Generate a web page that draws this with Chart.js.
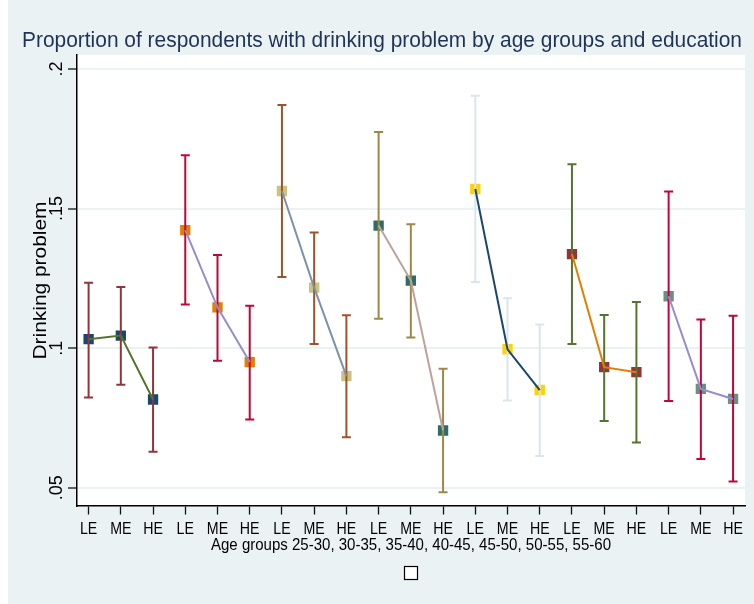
<!DOCTYPE html>
<html>
<head>
<meta charset="utf-8">
<script src="https://cdn.jsdelivr.net/npm/chart.js@4/dist/chart.umd.min.js"></script>
<style>
  html, body { margin: 0; padding: 0; background: #ffffff; }
  canvas { display: block; }
</style>
</head>
<body>
<canvas id="chart" width="754" height="604"></canvas>
<script>
// Education levels within each age group, and the age groups themselves
const eduLevels = ['LE', 'ME', 'HE'];
const ageGroups = ['25-30', '30-35', '35-40', '40-45', '45-50', '50-55', '55-60'];

// Proportion with a drinking problem, one value per age group x education level
const proportion = [
  0.1032, 0.1045, 0.0816,
  0.1423, 0.1146, 0.0950,
  0.1563, 0.1217, 0.0900,
  0.1439, 0.1242, 0.0705,
  0.1570, 0.0996, 0.0850,
  0.1337, 0.0932, 0.0914,
  0.1186, 0.0854, 0.0818
];

// Confidence interval bounds
const ciLower = [
  0.0823, 0.0869, 0.0629,
  0.1156, 0.0955, 0.0744,
  0.1255, 0.1015, 0.0681,
  0.1105, 0.1038, 0.0484,
  0.1237, 0.0812, 0.0614,
  0.1015, 0.0739, 0.0662,
  0.0811, 0.0603, 0.0522
];
const ciUpper = [
  0.1234, 0.1219, 0.1002,
  0.1691, 0.1334, 0.1152,
  0.1871, 0.1414, 0.1118,
  0.1774, 0.1444, 0.0926,
  0.1904, 0.1179, 0.1085,
  0.1659, 0.1119, 0.1165,
  0.1561, 0.1103, 0.1116
];

// Y axis ticks and their labels
const yTickValues = [0.05, 0.10, 0.15, 0.20];
const yTickLabels = ['.05', '.1', '.15', '.2'];

const chartTitle = 'Proportion of respondents with drinking problem by age groups and education';
const yAxisTitle = 'Drinking problem';
const xAxisTitle = 'Age groups ' + ageGroups.join(', ');

// Per-group styling
const markerColors = ['#1a476f', '#e37e00', '#cac27e', '#2d6d66', '#ffd200', '#90353b', '#6e8e84'];
const lineColors   = ['#55752f', '#938dd2', '#7b92a8', '#bfa19c', '#1a476f', '#e37e00', '#938dd2'];
const capColors    = ['#90353b', '#c10534', '#a0522d', '#9c8847', '#d9e6eb', '#55752f', '#c10534'];

const FONT = '"Liberation Sans", Arial, Helvetica, sans-serif';
const BG = '#eaf2f3';

// Draws text centred on (x, y) baseline, optionally stretched to a given length and rotated
function drawText(ctx, text, x, y, size, opts) {
  opts = opts || {};
  ctx.save();
  ctx.font = size + 'px ' + FONT;
  const natural = ctx.measureText(text).width;
  let sx = opts.scale || 1;
  if (opts.width) sx = opts.width / natural;
  ctx.translate(x, y);
  if (opts.angle) ctx.rotate(opts.angle);
  ctx.scale(sx, 1);
  ctx.textAlign = 'center';
  ctx.textBaseline = 'alphabetic';
  ctx.fillStyle = opts.color || '#000';
  ctx.fillText(text, 0, 0);
  ctx.restore();
}

const backgroundPlugin = {
  id: 'stataBackground',
  beforeDraw(chart) {
    const { ctx, chartArea: a, width, height } = chart;
    ctx.save();
    ctx.fillStyle = '#ffffff';
    ctx.fillRect(0, 0, width, height);
    ctx.fillStyle = BG;
    ctx.fillRect(8, 0, width - 8, height);
    ctx.fillStyle = '#ffffff';
    ctx.fillRect(a.left, a.top, a.right - a.left, a.bottom - a.top);
    ctx.restore();
  }
};

const textPlugin = {
  id: 'stataText',
  afterDraw(chart) {
    const { ctx, scales } = chart;
    const xs = scales.x, ys = scales.y;

    drawText(ctx, chartTitle, 382, 47.3, 22, { width: 720, color: '#1f3358' });

    yTickValues.forEach((v, i) => {
      drawText(ctx, yTickLabels[i], 62, ys.getPixelForValue(v), 18, { angle: -Math.PI / 2 });
    });

    drawText(ctx, yAxisTitle, 46, 280.5, 19, { width: 158, angle: -Math.PI / 2 });

    proportion.forEach((_, i) => {
      drawText(ctx, eduLevels[i % eduLevels.length], xs.getPixelForValue(i + 1), 534.3, 16.5, { scale: 0.86 });
    });

    drawText(ctx, xAxisTitle, 411, 549.5, 16, { width: 400 });

    // empty legend key
    ctx.save();
    ctx.fillStyle = '#ffffff';
    ctx.strokeStyle = '#000000';
    ctx.lineWidth = 1.2;
    ctx.fillRect(404.5, 566.5, 13, 13);
    ctx.strokeRect(404.5, 566.5, 13, 13);
    ctx.restore();
  }
};

const datasets = [];
ageGroups.forEach((grp, g) => {
  const idx = eduLevels.map((_, k) => g * eduLevels.length + k);
  const pts = idx.map(i => ({ x: i + 1, y: proportion[i] }));

  // square markers
  datasets.push({
    label: grp + ' markers',
    data: pts,
    showLine: false,
    pointStyle: 'rect',
    pointRadius: 7.3,
    pointBackgroundColor: markerColors[g],
    pointBorderWidth: 0,
    borderWidth: 0,
    order: 3
  });

  // confidence interval caps
  idx.forEach(i => {
    datasets.push({
      label: grp + ' ' + eduLevels[i % 3] + ' CI',
      data: [{ x: i + 1, y: ciLower[i] }, { x: i + 1, y: ciUpper[i] }],
      showLine: true,
      borderColor: capColors[g],
      borderWidth: 2,
      pointStyle: 'line',
      pointRadius: 4.5,
      pointBorderColor: capColors[g],
      pointBorderWidth: 2,
      order: 2
    });
  });

  // connecting line across education levels
  datasets.push({
    label: grp + ' line',
    data: pts,
    showLine: true,
    borderColor: lineColors[g],
    borderWidth: 2,
    pointRadius: 0,
    order: 1
  });
});

new Chart(document.getElementById('chart'), {
  type: 'line',
  data: { datasets },
  options: {
    responsive: false,
    animation: false,
    events: [],
    layout: { padding: { top: 55, right: 9, bottom: 0, left: 0 } },
    plugins: {
      legend: { display: false },
      tooltip: { enabled: false },
      title: { display: false }
    },
    scales: {
      x: {
        type: 'linear',
        min: 0.64,
        max: 21.37,
        afterBuildTicks: s => { s.ticks = proportion.map((_, i) => ({ value: i + 1 })); },
        ticks: { display: false },
        grid: { drawOnChartArea: false, drawTicks: true, tickLength: 9, tickColor: '#111', tickWidth: 1.3 },
        border: { display: true, color: '#000', width: 1.5 },
        afterFit: s => { s.height = 98.5; }
      },
      y: {
        type: 'linear',
        min: 0.043625,
        max: 0.205014,
        afterBuildTicks: s => { s.ticks = yTickValues.map(v => ({ value: v })); },
        ticks: { display: false },
        grid: { color: BG, lineWidth: 2, drawTicks: true, tickLength: 9, tickColor: '#111', tickWidth: 1.3 },
        border: { display: true, color: '#000', width: 1.5 },
        afterFit: s => { s.width = 77; }
      }
    }
  },
  plugins: [backgroundPlugin, textPlugin]
});
</script>
</body>
</html>
